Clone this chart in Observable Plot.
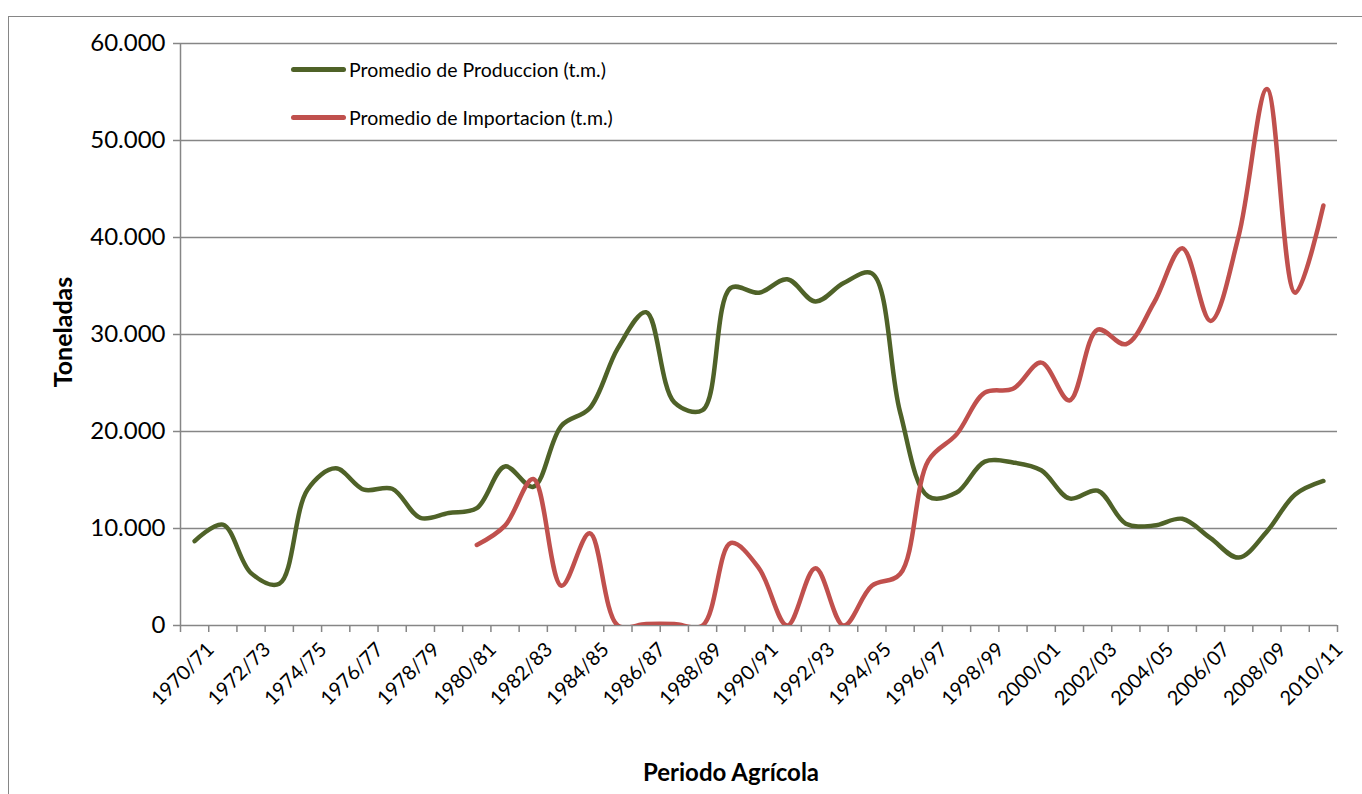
<!DOCTYPE html>
<html>
<head>
<meta charset="utf-8">
<script src="https://cdn.jsdelivr.net/npm/d3@7"></script>
<script src="https://cdn.jsdelivr.net/npm/@observablehq/plot@0.6"></script>
<style>
  html, body { margin: 0; padding: 0; background: #fff; }
  #wrap { position: relative; width: 1362px; height: 794px; overflow: hidden; font-family: Lato, "Open Sans", sans-serif; }
  #frame { position: absolute; left: 8px; top: 16px; width: 1400px; height: 900px; border-left: 1.5px solid #868686; border-top: 1.5px solid #868686; }
  .legend { position: absolute; left: 291px; font-size: 19.5px; color: #000; display: flex; align-items: center; white-space: nowrap; }
  .legend .sw { width: 55px; height: 5px; border-radius: 3px; margin-right: 3px; }
  #ytitle { position: absolute; left: 62px; top: 332px; transform: translate(-50%, -50%) rotate(-90deg); font-weight: bold; font-size: 25px; white-space: nowrap; }
  #xtitle { position: absolute; left: 731px; top: 771px; transform: translate(-50%, -50%); font-weight: bold; font-size: 24px; white-space: nowrap; }
  #chart { position: absolute; left: 0; top: 0; }
</style>
</head>
<body>
<div id="wrap">
  <div id="frame"></div>
  <div id="chart"></div>
  <div class="legend" id="lg1" style="top:58px"><div class="sw" style="background:#4F6228"></div><span>Promedio de Produccion (t.m.)</span></div>
  <div class="legend" id="lg2" style="top:106px"><div class="sw" style="background:#C0504D"></div><span>Promedio de Importacion (t.m.)</span></div>
  <div id="ytitle">Toneladas</div>
  <div id="xtitle">Periodo Agrícola</div>
</div>
<script>
const periods = [
  "1970/71","1971/72","1972/73","1973/74","1974/75","1975/76","1976/77","1977/78","1978/79","1979/80",
  "1980/81","1981/82","1982/83","1983/84","1984/85","1985/86","1986/87","1987/88","1988/89","1989/90",
  "1990/91","1991/92","1992/93","1993/94","1994/95","1995/96","1996/97","1997/98","1998/99","1999/00",
  "2000/01","2001/02","2002/03","2003/04","2004/05","2005/06","2006/07","2007/08","2008/09","2009/10",
  "2010/11"
];
const produccion = [
  8700, 10400, 5400, 4300, 14000, 16200, 14000, 14100, 11100, 11600,
  12100, 16400, 14300, 20600, 22400, 28600, 32300, 23000, 22200, 34800,
  34300, 35700, 33400, 35300, 36300, 22000, 13300, 13700, 16900, 16800,
  16000, 13100, 13900, 10500, 10300, 11000, 9000, 7000, 9700, 13500,
  14900
];
const importacion = [
  null, null, null, null, null, null, null, null, null, null,
  8300, 10300, 15100, 4100, 9500, 0, 150, 150, 0, 8500,
  5900, 0, 5900, 0, 4100, 5300, 17000, 19700, 24000, 24400,
  27100, 23200, 30500, 29000, 33300, 38900, 31400, 40200, 55300, 34300,
  43300
];
const yTicks = [0, 10000, 20000, 30000, 40000, 50000, 60000];

const prodData = produccion.map((v, i) => ({i, v}));
const impData = importacion.map((v, i) => ({i, v})).filter(d => d.v != null);

const fmt = d3.formatLocale({decimal: ",", thousands: ".", grouping: [3], currency: ["", ""]}).format(",");
const boundaries = d3.range(periods.length + 1).map(k => k - 0.5);
const labelIdx = d3.range(0, periods.length, 2);
const grey = "#868686";

const chart = Plot.plot({
  width: 1362,
  height: 794,
  marginLeft: 180,
  marginRight: 25,
  marginTop: 43,
  marginBottom: 169,
  style: {fontFamily: "Lato, 'Open Sans', sans-serif", background: "transparent", overflow: "visible"},
  x: {type: "linear", domain: [-0.5, periods.length - 0.5]},
  y: {domain: [0, 60000]},
  marks: [
    Plot.gridY(yTicks.filter(t => t > 0), {stroke: grey, strokeOpacity: 1, strokeWidth: 1.5}),
    Plot.axisY({ticks: yTicks, tickFormat: fmt, tickSize: 7, tickPadding: 8, stroke: grey, strokeWidth: 1.5, fontSize: 24, fill: "#000", label: null}),
    Plot.axisX({ticks: boundaries, tickSize: 7, tickFormat: () => "", stroke: grey, strokeWidth: 1.5, label: null}),
    Plot.axisX({ticks: labelIdx, tickSize: 0, tickFormat: i => periods[i], tickRotate: -45, fontSize: 20, fill: "#000", dx: 16, dy: 9, label: null}),
    Plot.ruleX([-0.5], {stroke: grey, strokeWidth: 1.5}),
    Plot.ruleY([0], {stroke: grey, strokeWidth: 1.5}),
    Plot.line(prodData, {x: "i", y: "v", stroke: "#4F6228", strokeWidth: 4.5, curve: "catmull-rom", clip: true}),
    Plot.line(impData, {x: "i", y: "v", stroke: "#C0504D", strokeWidth: 4.5, curve: "catmull-rom", clip: true})
  ]
});
document.getElementById("chart").appendChild(chart);
</script>
</body>
</html>
